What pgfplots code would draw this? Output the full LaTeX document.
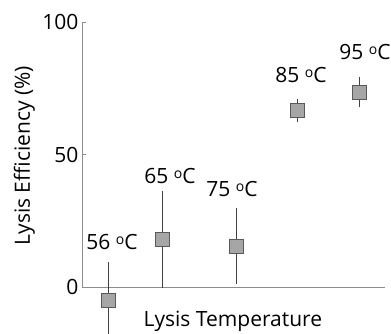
\documentclass[border=0pt]{standalone}
\usepackage{pgfplots}
\pgfplotsset{compat=1.18}
\usepackage{fontspec}
\setmainfont{Open Sans}
\newcommand{\degC}{\raisebox{0.28em}{\fontsize{14}{14}\selectfont o}C}
\begin{document}
\begin{tikzpicture}
\begin{axis}[
  name=ax, at={(0,0)}, anchor=origin,
  scale only axis, width=303pt, height=265pt,
  xmin=0, xmax=303, ymin=0, ymax=100,
  axis lines=left, axis line style={-, draw=gray!90, line width=0.8pt},
  clip=false,
  xtick=\empty, ytick={0,50,100},
  tick align=inside, major tick length=4pt,
  tick style={draw=gray!90, line width=0.8pt},
  /pgf/number format/assume math mode=true,
  tick label style={font=\fontsize{21}{24}\selectfont},
  yticklabel style={xshift=0pt},
  xlabel={Lysis Temperature},
  ylabel={Lysis Efficiency (\%)},
  label style={font=\fontsize{21}{24}\selectfont},
  xlabel style={at={(axis description cs:0.498,0)}, anchor=base, yshift=-40pt},
  ylabel style={at={(axis description cs:-0.19,0.495)}, anchor=center, rotate=0},
]
\addplot[
  only marks, mark=square*, mark size=7pt,
  mark options={fill=black!35, draw=black!65, line width=0.7pt},
  error bars/.cd, y dir=both, y explicit, error mark=none,
  error bar style={draw=black!75, line width=0.9pt},
] coordinates {
  (26,-5.2) +- (0,14.7)
  (80,18.1) +- (0,18.3)
  (154,15.4) +- (0,14.4)
  (215,66.5) +- (0,4.3)
  (277,73.5) +- (0,5.6)
};
\node[anchor=base, font=\fontsize{21}{24}\selectfont] at (axis cs:30,14) {56 \degC};
\node[anchor=base, font=\fontsize{21}{24}\selectfont] at (axis cs:88,38.9) {65 \degC};
\node[anchor=base, font=\fontsize{21}{24}\selectfont] at (axis cs:150,34) {75 \degC};
\node[anchor=base, font=\fontsize{21}{24}\selectfont] at (axis cs:219,77) {85 \degC};
\node[anchor=base, font=\fontsize{21}{24}\selectfont] at (axis cs:283,85.7) {95 \degC};
\end{axis}
\pgfresetboundingbox
\path[use as bounding box] (-82pt,-47pt) rectangle (309pt,287pt);
\end{tikzpicture}
\end{document}
